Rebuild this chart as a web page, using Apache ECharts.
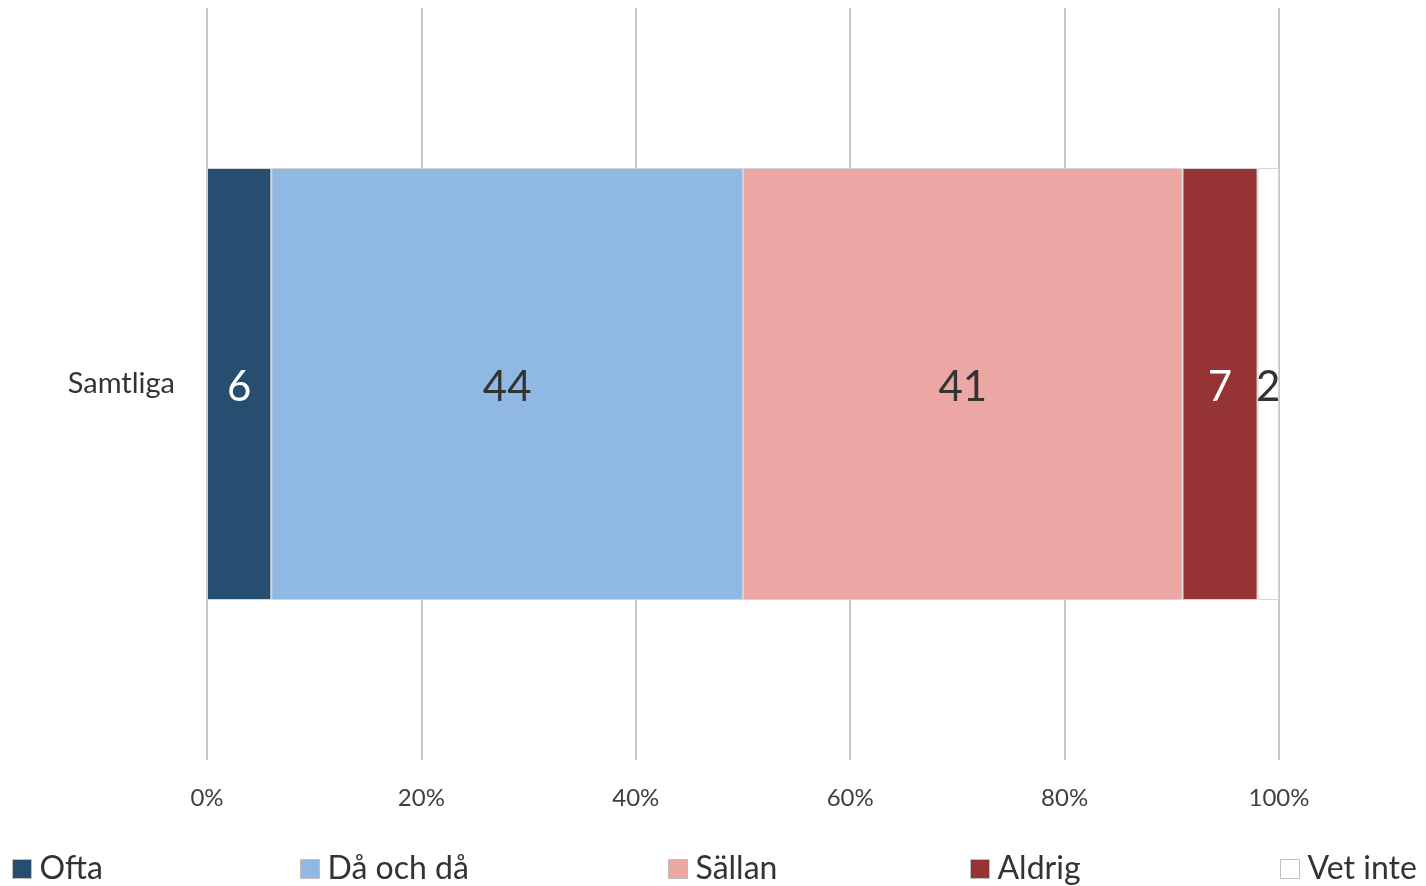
<!DOCTYPE html>
<html><head><meta charset="utf-8">
<script src="https://cdn.jsdelivr.net/npm/echarts@6/dist/echarts.min.js"></script>
<style>html,body{margin:0;padding:0;background:#fff}#c{width:1426px;height:886px}</style>
</head><body><div id="c"></div>
<script>
const categories = ['Samtliga'];
const seriesNames = ['Ofta', 'Då och då', 'Sällan', 'Aldrig', 'Vet inte'];
const ofta = [6];
const daOchDa = [44];
const sallan = [41];
const aldrig = [7];
const vetInte = [2];
const xTicks = [0, 20, 40, 60, 80, 100];

const values = [ofta, daOchDa, sallan, aldrig, vetInte];
const colors = ['#264e70', '#8fb8e2', '#eca6a4', '#963334', '#ffffff'];
const labelColors = ['#ffffff', '#333333', '#333333', '#ffffff', '#333333'];
const legendLeft = [12, 300, 668, 970, 1280];
const FONT = 'Lato, "Open Sans", sans-serif';

const chart = echarts.init(document.getElementById('c'));
chart.setOption({
  animation: false,
  grid: { left: 207, right: 147, top: 8, bottom: 126, containLabel: false },
  xAxis: {
    type: 'value', min: xTicks[0], max: xTicks[xTicks.length - 1], interval: 20,
    axisLine: { show: false }, axisTick: { show: false },
    splitLine: { show: true, lineStyle: { color: '#c6c6c6', width: 2 } },
    axisLabel: { formatter: '{value}%', color: '#404040', fontSize: 24, fontFamily: FONT, margin: 26 }
  },
  yAxis: {
    type: 'category', data: categories,
    axisLine: { show: false }, axisTick: { show: false },
    axisLabel: { color: '#333333', fontSize: 29, fontFamily: FONT, margin: 32 }
  },
  legend: seriesNames.map((n, i) => ({
    data: [n], left: legendLeft[i], top: 853, padding: 0, itemWidth: 19, itemHeight: 19, itemGap: 0,
    icon: 'rect',
    textStyle: { fontSize: 32, color: '#333333', fontFamily: FONT, padding: [0, 0, 0, 3] },
    itemStyle: { borderColor: '#bfbfbf', borderWidth: 1 }
  })),
  series: seriesNames.map((n, i) => ({
    name: n, type: 'bar', stack: 'total', data: values[i], barWidth: 432,
    itemStyle: { color: colors[i], borderColor: '#d4d4d4', borderWidth: 1 },
    label: { show: true, position: 'inside', color: labelColors[i], fontSize: 42, fontFamily: FONT, offset: [0, 3] }
  }))
});
</script></body></html>
